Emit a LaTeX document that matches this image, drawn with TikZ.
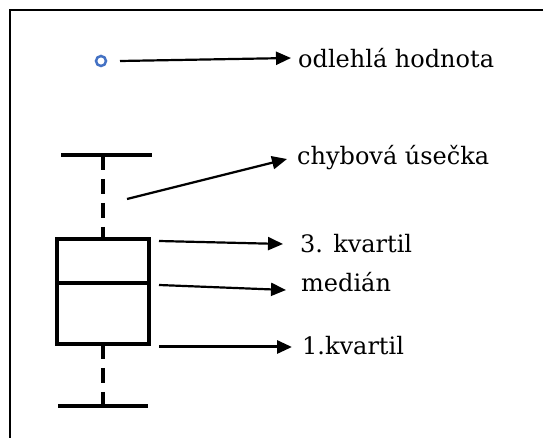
\documentclass[tikz,border=0pt]{standalone}
\usepackage{fontspec}
\setmainfont{DejaVu Serif}
\usetikzlibrary{arrows.meta}
\definecolor{outblue}{HTML}{4472C4}
\tikzset{
  lbl/.style={anchor=base west, inner sep=0pt, font=\fontsize{24}{27}\selectfont},
  conn/.style={line width=2.2pt, -{Triangle[length=15pt,width=13pt]}},
  boxline/.style={line width=3.2pt},
  whisk/.style={line width=3.2pt, dash pattern=on 15pt off 9pt},
}
\begin{document}
\begin{tikzpicture}[x=1pt,y=-1pt]
\useasboundingbox (0,0) rectangle (544,438);
\draw[line width=2pt] (543,10) -- (10,10) -- (10,438);
% outlier
\node (out) [circle, draw=outblue, line width=2.5pt, minimum size=10pt, inner sep=0pt] at (101,61) {};
% whiskers
\coordinate (tcapL) at (61,155); \coordinate (tcapR) at (152,155);
\coordinate (tcapM) at (103,155);
\coordinate (bcapL) at (58,406); \coordinate (bcapR) at (148,406);
\coordinate (bcapM) at (103,406);
\coordinate (boxT) at (103,239); \coordinate (boxB) at (103,344);
\draw[boxline] (tcapL) -- (tcapR);
\draw[boxline] (bcapL) -- (bcapR);
\draw[whisk] (tcapM) -- (boxT);
\draw[whisk] (boxB) -- (bcapM);
% box
\node (box) [draw, line width=3.2pt, minimum width=92pt, minimum height=105pt, inner sep=0pt] at (103,291.5) {};
\coordinate (medL) at (57,283); \coordinate (medR) at (149,283);
\draw[boxline] (medL) -- (medR);
% labels
\node (t1) [lbl] at (298,68) {odlehlá hodnota};
\node (t2) [lbl] at (297,165) {chybová úsečka};
\node (t3) [lbl] at (300,253) {3. kvartil};
\node (t4) [lbl] at (301,292) {medián};
\node (t5) [lbl] at (302,355) {1.kvartil};
% arrow ends
\coordinate (a1s) at (120,61); \coordinate (a1e) at (291,58);
\coordinate (a2s) at (127,199); \coordinate (a2e) at (287,159);
\coordinate (a3s) at (159,241); \coordinate (a3e) at (283,244);
\coordinate (a4s) at (159,285); \coordinate (a4e) at (286,290);
\coordinate (a5s) at (159,347); \coordinate (a5e) at (292,347);
\draw[conn] (a1s) -- (a1e);
\draw[conn] (a2s) -- (a2e);
\draw[conn] (a3s) -- (a3e);
\draw[conn] (a4s) -- (a4e);
\draw[conn, line width=3pt] (a5s) -- (a5e);
\end{tikzpicture}
\end{document}
